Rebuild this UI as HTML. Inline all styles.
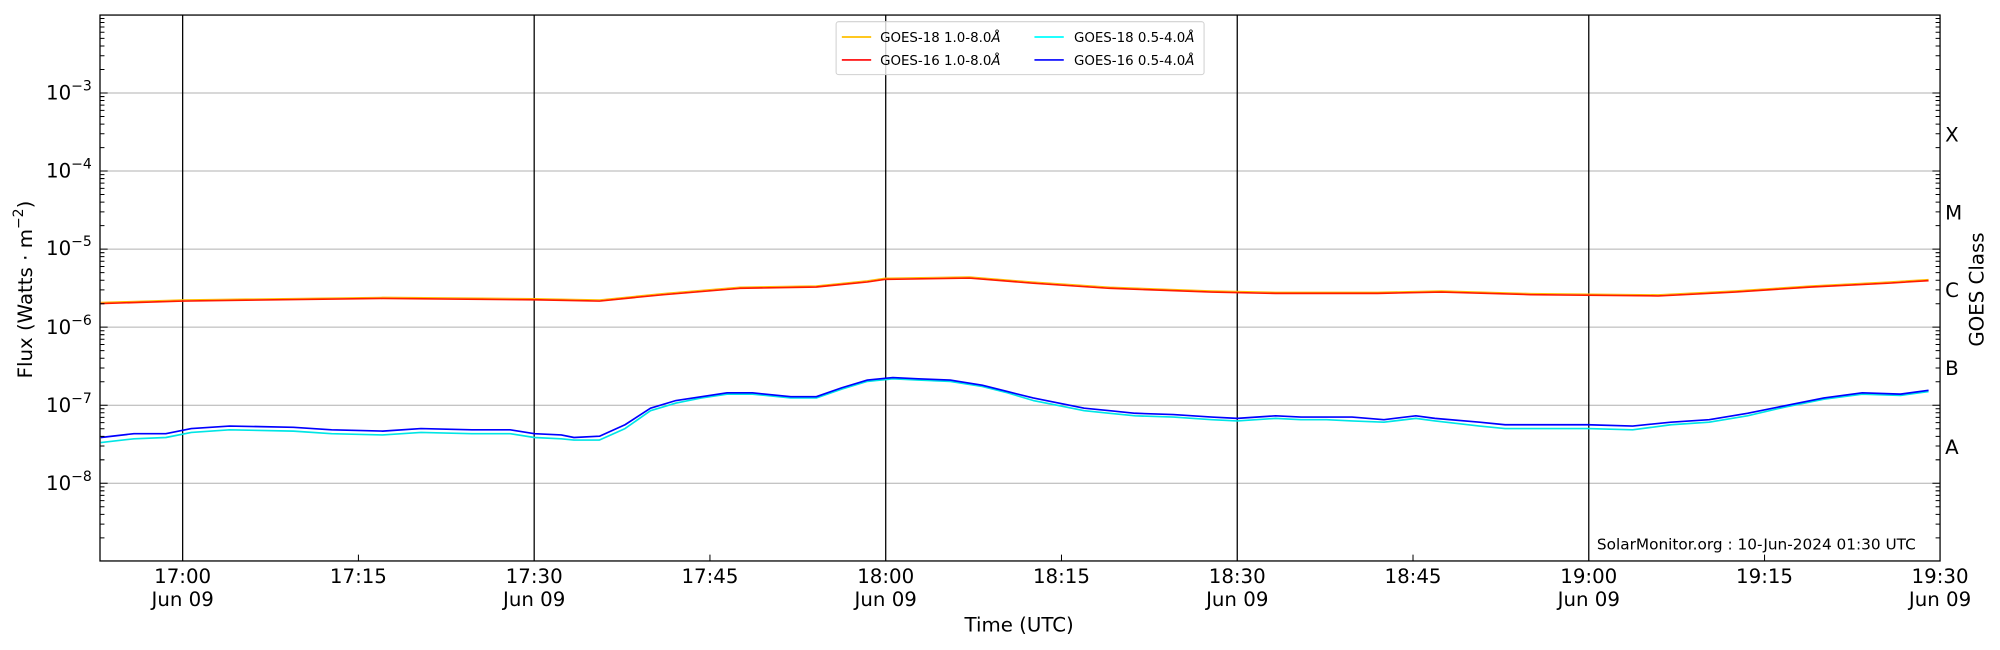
<!DOCTYPE html>
<html><head><meta charset="utf-8"><style>html,body{margin:0;padding:0;background:#fff}svg{display:block}text{font-family:"DejaVu Sans","Liberation Sans",sans-serif;fill:#000}</style></head>
<body>
<svg width="2000" height="650" viewBox="0 0 1568 509.6" preserveAspectRatio="none" xmlns="http://www.w3.org/2000/svg">
<defs>
<g id="dec" stroke="#000" stroke-width="0.8">
<path d="M78.4 -18.4h3.5M78.4 -29.2h3.5M78.4 -36.8h3.5M78.4 -42.8h3.5M78.4 -47.6h3.5M78.4 -51.7h3.5M78.4 -55.3h3.5M78.4 -58.4h3.5
M1521 -18.4h-3.5M1521 -29.2h-3.5M1521 -36.8h-3.5M1521 -42.8h-3.5M1521 -47.6h-3.5M1521 -51.7h-3.5M1521 -55.3h-3.5M1521 -58.4h-3.5"/>
</g>
</defs>
<rect width="1568" height="509.6" fill="#fff"/>
<g stroke="#b0b0b0" stroke-width="0.8">
<line x1="78.4" x2="1521" y1="72.9" y2="72.9"/><line x1="78.4" x2="1521" y1="134.1" y2="134.1"/>
<line x1="78.4" x2="1521" y1="195.3" y2="195.3"/><line x1="78.4" x2="1521" y1="256.5" y2="256.5"/>
<line x1="78.4" x2="1521" y1="317.7" y2="317.7"/><line x1="78.4" x2="1521" y1="378.9" y2="378.9"/>
</g>
<g stroke="#000" stroke-width="1">
<line x1="143.2" x2="143.2" y1="11.8" y2="439.8"/><line x1="418.8" x2="418.8" y1="11.8" y2="439.8"/>
<line x1="694.4" x2="694.4" y1="11.8" y2="439.8"/><line x1="970" x2="970" y1="11.8" y2="439.8"/>
<line x1="1245.6" x2="1245.6" y1="11.8" y2="439.8"/>
</g>
<g fill="none" stroke-width="1.3" stroke-linejoin="round">
<polyline stroke="#ffc000" stroke-width="0.8" points="79,237 143,235 300,233 419,234 470,235 520,230 580,225 640,224 680,220 694,218 760,217 810,221 870,225 950,228 1000,229 1080,229 1130,228 1200,230 1300,231 1360,228 1420,224 1480,221 1512,219"/>
<polyline stroke="#ff1a00" points="79,238 143,236 300,234 419,235 470,236 520,231 580,226 640,225 680,221 694,219 760,218 810,222 870,226 950,229 1000,230 1080,230 1130,229 1200,231 1300,232 1360,229 1420,225 1480,222 1512,220"/>
<polyline stroke="#00e5e5" points="79,347 105,344 130,343 150,339 180,337 230,338 260,340 300,341 330,339 370,340 400,340 419,343 440,344 450,345 470,345 490,336 510,322 530,316 550,312 570,309 590,309 620,312 640,312 660,305 680,299 700,297 720,298 745,299 770,303 790,308 810,314 830,318 850,322 870,324 890,326 920,327 950,329 970,330 1000,328 1020,329 1040,329 1060,330 1085,331 1110,328 1125,330 1160,334 1180,336 1200,336 1245,336 1280,337 1310,333 1340,331 1370,326 1400,319 1430,313 1460,309 1490,310 1512,307"/>
<polyline stroke="#0000ff" points="79,343 105,340 130,340 150,336 180,334 230,335 260,337 300,338 330,336 370,337 400,337 419,340 440,341 450,343 470,342 490,333 510,320 530,314 550,311 570,308 590,308 620,311 640,311 660,304 680,298 700,296 720,297 745,298 770,302 790,307 810,312 830,316 850,320 870,322 890,324 920,325 950,327 970,328 1000,326 1020,327 1040,327 1060,327 1085,329 1110,326 1125,328 1160,331 1180,333 1200,333 1245,333 1280,334 1310,331 1340,329 1370,324 1400,318 1430,312 1460,308 1490,309 1512,306"/>
</g>
<rect x="78.4" y="11.8" width="1442.6" height="428" fill="none" stroke="#000" stroke-width="1"/>
<use href="#dec" transform="translate(0,440.1)"/>
<use href="#dec" transform="translate(0,378.9)"/>
<use href="#dec" transform="translate(0,317.7)"/>
<use href="#dec" transform="translate(0,256.5)"/>
<use href="#dec" transform="translate(0,195.3)"/>
<use href="#dec" transform="translate(0,134.1)"/>
<use href="#dec" transform="translate(0,72.9)"/>
<g stroke="#000" stroke-width="0.8">
<path d="M78.4 72.9h6M1521 72.9h-6M78.4 134.1h6M1521 134.1h-6M78.4 195.3h6M1521 195.3h-6M78.4 256.5h6M1521 256.5h-6M78.4 317.7h6M1521 317.7h-6M78.4 378.9h6M1521 378.9h-6
M281 439.8v-5M556.6 439.8v-5M832.2 439.8v-5M1107.8 439.8v-5M1383.4 439.8v-5"/>
</g>
<g font-size="15.5" text-anchor="end">
<text x="72" y="78">10<tspan font-size="11" dy="-7">−3</tspan></text>
<text x="72" y="139">10<tspan font-size="11" dy="-7">−4</tspan></text>
<text x="72" y="200">10<tspan font-size="11" dy="-7">−5</tspan></text>
<text x="72" y="262">10<tspan font-size="11" dy="-7">−6</tspan></text>
<text x="72" y="323">10<tspan font-size="11" dy="-7">−7</tspan></text>
<text x="72" y="384">10<tspan font-size="11" dy="-7">−8</tspan></text>
</g>
<g font-size="15.5" text-anchor="middle">
<text x="143.2" y="457">17:00</text><text x="143.2" y="475">Jun 09</text>
<text x="281" y="457">17:15</text>
<text x="418.8" y="457">17:30</text><text x="418.8" y="475">Jun 09</text>
<text x="556.6" y="457">17:45</text>
<text x="694.4" y="457">18:00</text><text x="694.4" y="475">Jun 09</text>
<text x="832.2" y="457">18:15</text>
<text x="970" y="457">18:30</text><text x="970" y="475">Jun 09</text>
<text x="1107.8" y="457">18:45</text>
<text x="1245.6" y="457">19:00</text><text x="1245.6" y="475">Jun 09</text>
<text x="1383.4" y="457">19:15</text>
<text x="1521" y="457">19:30</text><text x="1521" y="475">Jun 09</text>
<text x="799" y="495">Time (UTC)</text>
<text transform="translate(25,227) rotate(-90)">Flux (Watts · m<tspan font-size="11" dy="-7">−2</tspan><tspan dy="7">)</tspan></text>
<text transform="translate(1555,227) rotate(-90)">GOES Class</text>
</g>
<g font-size="15.5">
<text x="1525" y="111">X</text><text x="1525" y="172">M</text><text x="1525" y="233">C</text>
<text x="1525" y="294">B</text><text x="1525" y="356">A</text>
</g>
<text x="1252" y="431" font-size="12">SolarMonitor.org : 10-Jun-2024 01:30 UTC</text>
<rect x="655.5" y="17" width="288.5" height="41.5" rx="2" fill="#fff" fill-opacity="0.8" stroke="#d0d0d0" stroke-width="0.8"/>
<g stroke-width="1.3">
<line x1="660" x2="683" y1="29" y2="29" stroke="#ffc000"/>
<line x1="660" x2="683" y1="47" y2="47" stroke="#ff0000"/>
<line x1="811" x2="834" y1="29" y2="29" stroke="#00ffff"/>
<line x1="811" x2="834" y1="47" y2="47" stroke="#0000ff"/>
</g>
<g font-size="10.5">
<text x="690" y="33">GOES-18 1.0-8.0<tspan font-style="italic">Å</tspan></text>
<text x="690" y="51">GOES-16 1.0-8.0<tspan font-style="italic">Å</tspan></text>
<text x="842" y="33">GOES-18 0.5-4.0<tspan font-style="italic">Å</tspan></text>
<text x="842" y="51">GOES-16 0.5-4.0<tspan font-style="italic">Å</tspan></text>
</g>
</svg>
</body></html>
